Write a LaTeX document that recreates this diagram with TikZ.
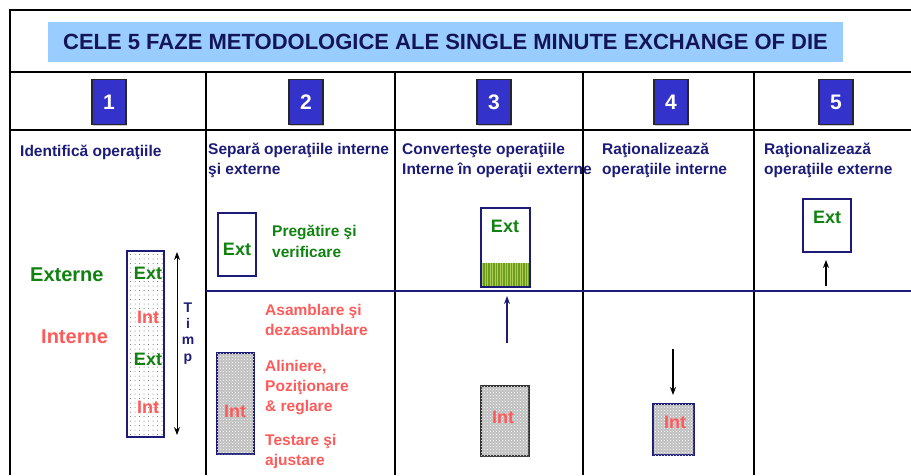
\documentclass[tikz,border=0pt]{standalone}
\usepackage{fontspec}
\setmainfont{Liberation Sans}
\usetikzlibrary{arrows.meta,patterns,patterns.meta,shadows}

\definecolor{navy}{RGB}{28,28,120}
\definecolor{titlenavy}{RGB}{20,20,90}
\definecolor{bandblue}{RGB}{153,204,255}
\definecolor{numblue}{RGB}{51,51,204}
\definecolor{extgreen}{RGB}{16,130,16}
\definecolor{intred}{RGB}{255,90,90}
\definecolor{olivegreen}{RGB}{112,156,28}
\definecolor{lightolive}{RGB}{170,205,90}

\begin{document}
\begin{tikzpicture}[x=1pt,y=-1pt,>={Stealth[length=8pt,width=6pt]},
	grid/.style={line width=2pt},
	numbox/.style={draw=black!85,line width=1.5pt,fill=numblue,text=white,minimum width=34pt,minimum height=45pt,
		font=\fontsize{21}{21}\selectfont\bfseries,drop shadow={shadow xshift=1.2pt,shadow yshift=-1.2pt,fill=black!40}},
	hdr/.style={anchor=base west,align=left,inner sep=0pt,text=navy,font=\fontsize{15.5}{20}\selectfont\bfseries},
	grntxt/.style={anchor=base west,align=left,inner sep=0pt,text=extgreen,font=\fontsize{15.5}{21}\selectfont\bfseries},
	redtxt/.style={anchor=base west,align=left,inner sep=0pt,text=intred,font=\fontsize{15.5}{20}\selectfont\bfseries},
	extbox/.style={draw=navy,line width=1.5pt,fill=white,inner sep=0pt},
	intbox/.style={draw=navy,line width=1.5pt,fill=black!25,inner sep=0pt,postaction={pattern=crosshatch dots,pattern color=white}},
	extlbl/.style={anchor=base,inner sep=0pt,text=extgreen,font=\fontsize{18}{18}\selectfont\bfseries},
	intlbl/.style={anchor=base,inner sep=0pt,text=intred,font=\fontsize{18}{18}\selectfont\bfseries}]

\useasboundingbox (0,0) rectangle (911,475);

% table
\draw[grid] (911,10) -- (10,10) -- (10,475);
\draw[grid] (10,72) -- (911,72);
\draw[grid] (10,130) -- (911,130);
\foreach \x in {206,395,583,754}
	\draw[grid] (\x,72) -- (\x,475);
\draw[navy,line width=1.5pt] (206,291) -- (911,291);

% title
\node[fill=bandblue,minimum width=795pt,minimum height=40pt,text=titlenavy,font=\fontsize{22}{22}\selectfont\bfseries] (title) at (445.5,42) {CELE 5 FAZE METODOLOGICE ALE SINGLE MINUTE EXCHANGE OF DIE};

\foreach \n/\x in {1/109,2/306,3/494,4/671,5/836}
	\node[numbox] (n\n) at (\x,102) {\n};

% headers (base = last line)
\node[hdr] (h1) at (20,156) {Identifică operaţiile};
\node[hdr] (h2) at (208,174) {Separă operaţiile interne\\şi externe};
\node[hdr] (h3) at (402,174) {Converteşte operaţiile\\Interne în operaţii externe};
\node[hdr] (h4) at (602,174) {Raţionalizează\\operaţiile interne};
\node[hdr] (h5) at (764,174) {Raţionalizează\\operaţiile externe};

% faza 1
\node[anchor=base west,inner sep=0pt,text=extgreen,font=\fontsize{20}{20}\selectfont\bfseries] (externe) at (30,281) {Externe};
\node[anchor=base west,inner sep=0pt,text=intred,font=\fontsize{20}{20}\selectfont\bfseries] (interne) at (41,343) {Interne};
\node[draw=navy,line width=1.5pt,minimum width=37pt,minimum height=186pt,pattern={Dots[distance=4.5pt,radius=.5pt]},pattern color=black!60] (bar) at (145.5,344) {};
\node[extlbl] (b1) at (148,279) {Ext};
\node[intlbl] (b2) at (148,323) {Int};
\node[extlbl] (b3) at (148,365) {Ext};
\node[intlbl] (b4) at (148,413) {Int};
\coordinate (t1) at (177,252);
\coordinate (t2) at (177,435);
\path[<->,line width=.9pt] (t1) edge (t2);
\node[anchor=base,align=center,inner sep=0pt,text=navy,font=\fontsize{14}{16.3}\selectfont\bfseries] (timp) at (188,361) {T\\i\\m\\p};

% faza 2
\node[extbox,minimum width=38pt,minimum height=63pt] (ext2) at (237,244.5) {};
\node[extlbl] (e2) at (237,255) {Ext};
\node[grntxt] (prep) at (272,257) {Pregătire şi\\verificare};
\node[intbox,minimum width=37pt,minimum height=101pt] (int2) at (235.5,403.5) {};
\node[intlbl] (i2) at (235,417) {Int};
\node[redtxt] (r1) at (265,335) {Asamblare şi\\dezasamblare};
\node[redtxt] (r2) at (265,411) {Aliniere,\\Poziţionare\\\& reglare};
\node[redtxt] (r3) at (265,465) {Testare şi\\ajustare};

% faza 3
\node[extbox,minimum width=49pt,minimum height=79pt,
	path picture={\fill[olivegreen] (path picture bounding box.south west) rectangle ([yshift=24pt]path picture bounding box.south east);
		\fill[pattern={Lines[angle=90,distance=2.5pt,line width=.8pt]},pattern color=lightolive] (path picture bounding box.south west) rectangle ([yshift=24pt]path picture bounding box.south east);}] (ext3) at (505.5,247.5) {};
\node[extlbl] (e3) at (505,232) {Ext};
\node[intbox,draw=black!80,minimum width=48pt,minimum height=70pt] (int3) at (505,421) {};
\node[intlbl] (i3) at (503,423) {Int};
\coordinate (a3) at (507,343);
\coordinate (b3) at (507,296);
\path[->,navy,line width=1.3pt] (a3) edge (b3);

% faza 4
\node[intbox,minimum width=41pt,minimum height=51pt] (int4) at (673.5,429.5) {};
\node[intlbl] (i4) at (675,428) {Int};
\coordinate (a4) at (673,349);
\coordinate (b4) at (673,395);
\path[->,line width=1.2pt] (a4) edge (b4);

% faza 5
\node[extbox,minimum width=48pt,minimum height=53pt] (ext5) at (827,225.5) {};
\node[extlbl] (e5) at (827,223) {Ext};
\coordinate (a5) at (826,286);
\coordinate (b5) at (826,260);
\path[->,line width=1.2pt] (a5) edge (b5);
\end{tikzpicture}
\end{document}
